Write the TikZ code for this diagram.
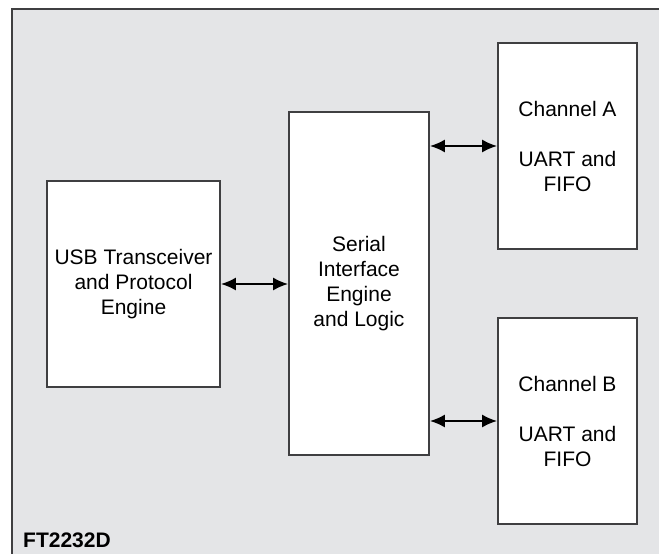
\documentclass[tikz,border=0pt]{standalone}
\usepackage{fontspec}
\setmainfont{Liberation Sans}
\usepackage{xcolor}
\usepackage{tikz}
\usetikzlibrary{arrows}
\usetikzlibrary{arrows.meta}

\definecolor{panelgray}{HTML}{E4E5E7}
\definecolor{edgegray}{HTML}{3F3F41}

\begin{document}
\begin{tikzpicture}[x=1pt, y=-1pt,
    every node/.style={font=\fontsize{21}{25}\selectfont, align=center},
    block/.style={draw=edgegray, line width=1.6pt, fill=white, inner sep=0pt},
    link/.style={{Latex[length=15pt, width=13pt]}-{Latex[length=15pt, width=13pt]}, line width=2.2pt, black}]
       \useasboundingbox (0, 0) rectangle (659, 554);

       % panel
       \fill [panelgray] (12, 9) rectangle (680, 580);
       \draw [edgegray, line width=2pt] (12, 580) -- (12, 9) -- (680, 9);

       % blocks
       \node [block, minimum width=173pt, minimum height=206pt] (usb) at (133.5, 284) {USB Transceiver\\and Protocol\\Engine};
       \node [block, minimum width=140pt, minimum height=343pt] (sie) at (359, 283.5) {Serial\\Interface\\Engine\\and Logic};
       \node [block, minimum width=139pt, minimum height=206pt] (chA) at (567.5, 146) {Channel A\\[25pt]UART and\\FIFO};
       \node [block, minimum width=139pt, minimum height=206pt] (chB) at (567.5, 421) {Channel B\\[25pt]UART and\\FIFO};

       % links
       \draw [link] (usb.east) -- (usb.east -| sie.west);
       \draw [link] (sie.east |- chA.west) -- (chA.west);
       \draw [link] (sie.east |- chB.west) -- (chB.west);

       % chip label
       \node [anchor=base west, inner sep=0pt, font=\fontsize{21}{25}\selectfont\bfseries] (chip) at (23, 547) {FT2232D};
\end{tikzpicture}
\end{document}
